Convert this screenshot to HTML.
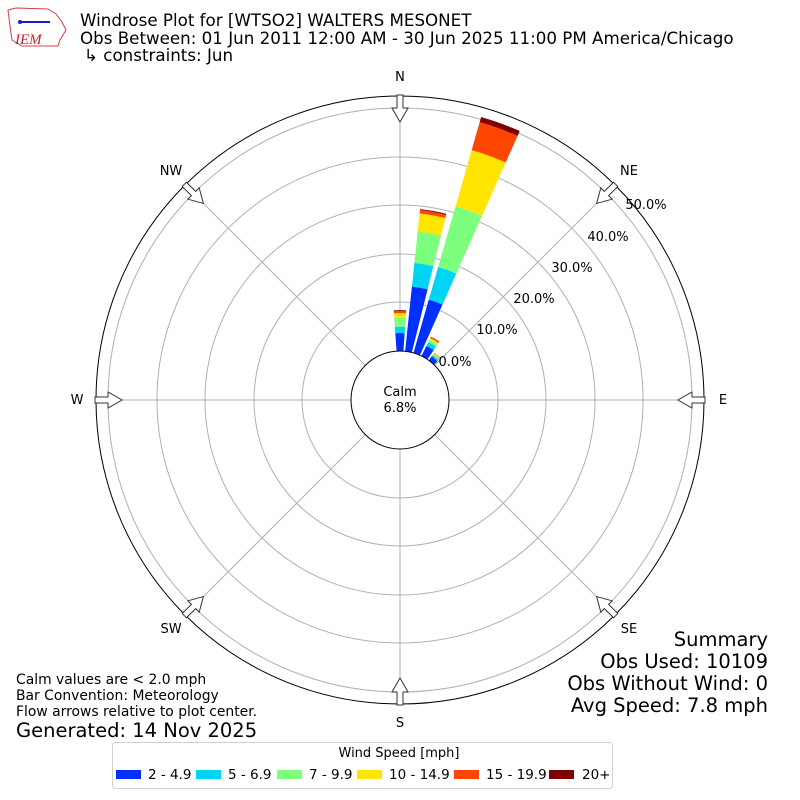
<!DOCTYPE html>
<html><head><meta charset="utf-8"><style>
body{margin:0;background:#fff;}
svg{display:block;font-family:"DejaVu Sans","Liberation Sans",sans-serif;}
</style></head><body>
<svg id="s" width="800" height="800" viewBox="0 0 800 800" xmlns="http://www.w3.org/2000/svg">
<rect width="800" height="800" fill="#fff"/>
<g id="grid" stroke="#b0b0b0" stroke-width="1" fill="none">
<circle cx="400" cy="400" r="98"/>
<circle cx="400" cy="400" r="146"/>
<circle cx="400" cy="400" r="195"/>
<circle cx="400" cy="400" r="243"/>
<circle cx="400" cy="400" r="292"/>
</g>
<g id="spokes" stroke="#b0b0b0" stroke-width="1"></g>
<g id="bars"></g>
<circle cx="400" cy="400" r="304" fill="none" stroke="#000" stroke-width="1"/>
<circle cx="400" cy="400" r="49" fill="#fff" stroke="#000" stroke-width="1"/>
<text x="400" y="396" font-size="13" text-anchor="middle">Calm</text>
<text x="400" y="412" font-size="13" text-anchor="middle">6.8%</text>
<g id="arrows"></g>
<g font-size="13" text-anchor="middle">
<text x="400" y="81">N</text>
<text x="629" y="175">NE</text>
<text x="723" y="404">E</text>
<text x="629" y="633">SE</text>
<text x="400" y="727">S</text>
<text x="171" y="633">SW</text>
<text x="77" y="404">W</text>
<text x="171" y="175">NW</text>
<text x="455" y="366">0.0%</text>
<text x="497" y="334">10.0%</text>
<text x="534" y="303">20.0%</text>
<text x="572" y="272">30.0%</text>
<text x="608" y="241">40.0%</text>
<text x="646" y="209">50.0%</text>
</g>
<g font-size="16.7">
<text x="80" y="26">Windrose Plot for [WTSO2] WALTERS MESONET</text>
<text x="80" y="44">Obs Between: 01 Jun 2011 12:00 AM - 30 Jun 2025 11:00 PM America/Chicago</text>
<text x="84" y="61">↳ constraints: Jun</text>
</g>
<g>
<path d="M8 10 L16 8 L48 9 L56 14 L62 22 L66 30 L60 40 L58 46 L22 46 L12 40 L10 26 Z" fill="none" stroke="#d04040" stroke-width="1"/>
<line x1="20" y1="22" x2="50" y2="22" stroke="#1a1ad0" stroke-width="2"/>
<circle cx="20" cy="22" r="2" fill="#1a1ad0"/>
<text x="15" y="44" font-size="15" font-style="italic" fill="#d02020" font-family="Liberation Serif,serif">IEM</text>
</g>
<g font-size="19.5" text-anchor="end">
<text x="768" y="646">Summary</text>
<text x="768" y="668">Obs Used: 10109</text>
<text x="768" y="690">Obs Without Wind: 0</text>
<text x="768" y="712">Avg Speed: 7.8 mph</text>
</g>
<g font-size="13.9">
<text x="16" y="684">Calm values are &lt; 2.0 mph</text>
<text x="16" y="700">Bar Convention: Meteorology</text>
<text x="16" y="716">Flow arrows relative to plot center.</text>
<text x="16" y="737" font-size="19.5">Generated: 14 Nov 2025</text>
</g>
<rect x="112.5" y="742.5" width="500" height="46" rx="3" fill="#fff" stroke="#d0d0d0"/>
<text x="399" y="757" font-size="13" text-anchor="middle">Wind Speed [mph]</text>
<g font-size="13.5">
<rect x="116" y="770" width="25" height="9" fill="#0030ff"/><text x="148" y="779">2 - 4.9</text>
<rect x="196" y="770" width="25" height="9" fill="#00d4f4"/><text x="228" y="779">5 - 6.9</text>
<rect x="277" y="770" width="25" height="9" fill="#7dff7d"/><text x="309" y="779">7 - 9.9</text>
<rect x="357" y="770" width="25" height="9" fill="#ffe500"/><text x="389" y="779">10 - 14.9</text>
<rect x="454" y="770" width="25" height="9" fill="#ff4600"/><text x="486" y="779">15 - 19.9</text>
<rect x="549" y="770" width="25" height="9" fill="#800000"/><text x="582" y="779">20+</text>
</g>
</svg>
<script>
var NS="http://www.w3.org/2000/svg",cx=400,cy=400;
function R(p){return 49+p*4.86;}
function pt(a,r){var t=a*Math.PI/180;return [cx+r*Math.sin(t),cy-r*Math.cos(t)];}
var sp=document.getElementById("spokes");
for(var i=0;i<8;i++){var a=i*45,p1=pt(a,49),p2=pt(a,304);
var l=document.createElementNS(NS,"line");l.setAttribute("x1",p1[0]);l.setAttribute("y1",p1[1]);l.setAttribute("x2",p2[0]);l.setAttribute("y2",p2[1]);sp.appendChild(l);}
var cols=["#0030ff","#00d4f4","#7dff7d","#ffe500","#ff4600","#800000"];
var data=[[0,[3.7,5.0,6.8,7.8,8.2,8.4]],[10,[13.4,18.3,24.8,28.5,29.2,29.4]],[20,[11.4,18.4,31.4,43.4,49.4,50.5]],[30,[2.3,3.2,3.7,4.1,4.3,4.4]],[40,[1.0,1.4,1.6,1.8,1.9,1.9]]];
var bg=document.getElementById("bars"),hw=4;
data.forEach(function(d){var a=d[0],prev=0;d[1].forEach(function(v,k){if(v<=prev)return;var r0=R(prev),r1=R(v);
var A=pt(a-hw,r0),B=pt(a-hw,r1),C=pt(a+hw,r1),D=pt(a+hw,r0);
var p=document.createElementNS(NS,"path");
p.setAttribute("d","M"+A+" L"+B+" A"+r1+" "+r1+" 0 0 1 "+C+" L"+D+" A"+r0+" "+r0+" 0 0 0 "+A+" Z");
p.setAttribute("fill",cols[k]);bg.appendChild(p);prev=v;});});
var ag=document.getElementById("arrows");
for(var i=0;i<8;i++){var g=document.createElementNS(NS,"polygon");
g.setAttribute("points","-3,-305 3,-305 3,-292 8,-292 0,-278 -8,-292 -3,-292");
g.setAttribute("fill","#fff");g.setAttribute("stroke","#333");g.setAttribute("stroke-width","1");
g.setAttribute("transform","translate(400,400) rotate("+(i*45)+")");ag.appendChild(g);}
</script>
</body></html>
